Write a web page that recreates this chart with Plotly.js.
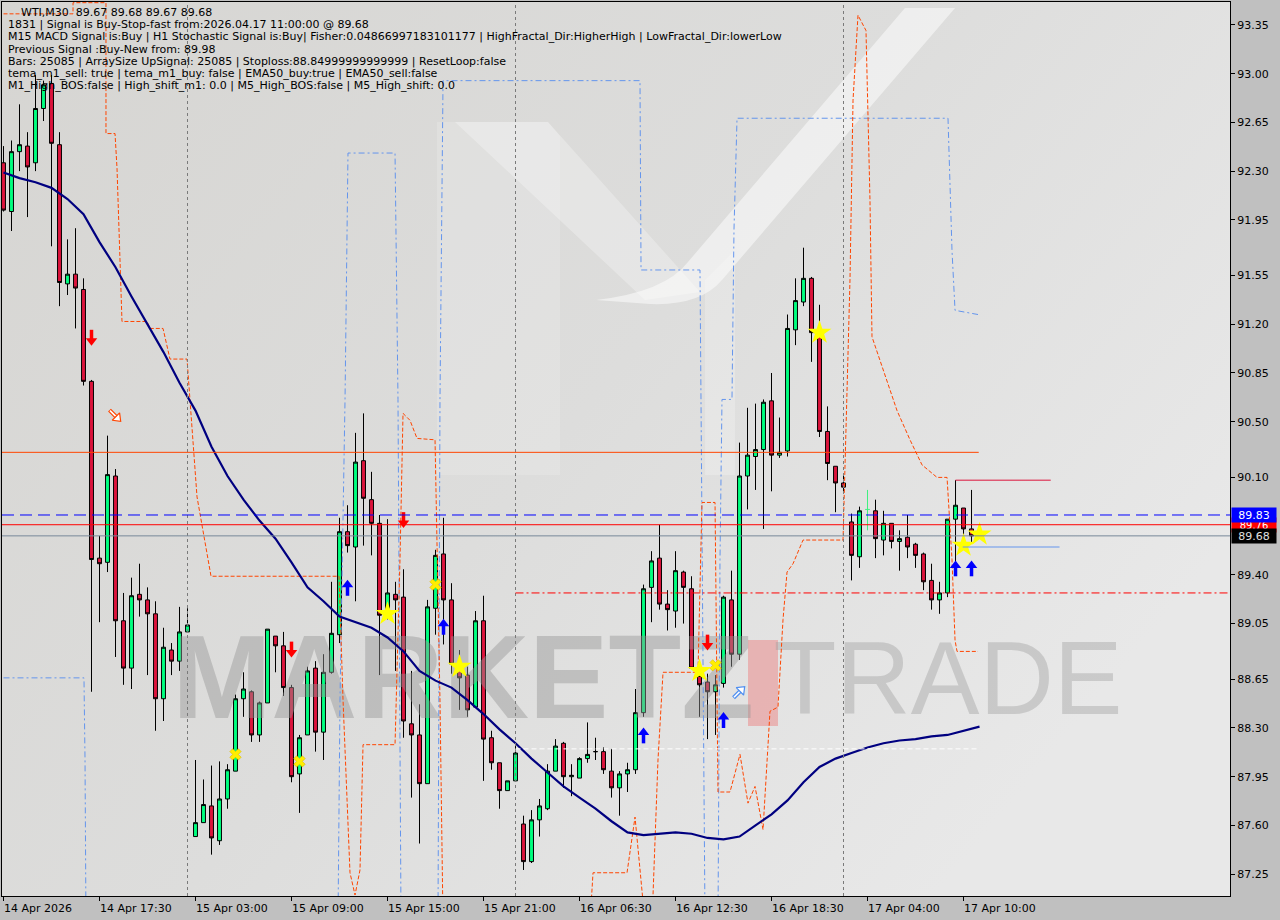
<!DOCTYPE html>
<html><head><meta charset="utf-8">
<script src="https://cdn.plot.ly/plotly-3.0.1.min.js"></script>
<style>html,body{margin:0;padding:0;background:#c0c0c0;}#chart{width:1280px;height:920px;}</style>
</head><body><div id="chart"></div>
<script>
// ---------- DATA ----------
const openV  = [92.36,92.01,92.44,92.48,92.36,92.75,92.93,92.49,91.49,91.56,91.45,90.79,89.52,89.49,90.11,89.07,88.73,89.26,89.22,89.12,88.51,88.86,88.78,88.99,87.52,87.62,87.74,87.49,87.79,87.99,88.51,88.56,88.25,88.48,88.96,88.89,88.59,87.97,88.25,88.73,88.27,88.70,88.97,89.71,89.60,90.22,89.94,89.77,89.11,89.26,89.24,88.33,88.25,87.90,89.16,89.55,89.22,88.76,88.68,88.45,89.07,88.23,88.05,87.85,87.92,87.61,87.34,87.64,87.72,87.99,88.19,87.95,87.94,88.08,88.13,88.13,87.99,87.87,87.97,88.00,88.41,89.31,89.52,89.19,89.14,89.42,89.30,88.67,88.63,88.56,88.62,89.22,88.83,90.11,90.25,90.30,90.65,90.26,90.29,91.16,91.36,91.53,91.14,90.43,90.18,90.06,89.78,89.53,null,89.86,89.65,89.77,89.64,89.67,89.62,89.55,89.36,89.22,89.27,89.80,89.88,89.73,89.67];
const highV  = [92.48,92.52,92.78,92.58,92.99,92.95,92.99,92.58,91.81,91.89,91.53,90.80,89.68,90.40,90.16,89.27,89.38,89.48,89.31,89.21,89.02,88.91,89.17,89.16,88.07,87.93,88.03,88.06,88.04,88.54,88.70,88.57,88.49,89.01,88.96,88.99,88.61,88.25,88.74,88.78,88.83,89.35,89.81,89.90,90.42,90.56,90.14,89.83,89.80,89.35,89.44,88.71,88.47,89.22,89.58,89.81,89.34,88.86,88.74,89.14,89.25,88.28,88.05,87.92,88.17,87.67,87.71,87.79,88.04,88.22,88.20,88.04,88.09,88.34,88.23,88.16,88.15,87.99,88.05,88.58,89.33,89.57,89.76,89.29,89.57,89.43,89.39,88.72,88.69,88.68,89.25,89.43,90.35,90.60,90.63,90.66,90.85,90.53,91.27,91.53,91.75,91.54,91.34,90.61,90.18,90.11,89.84,89.89,null,89.94,89.86,89.77,89.72,89.83,89.63,89.56,89.48,89.35,89.80,90.08,89.88,90.01,89.68];
const lowV   = [92.01,91.87,92.30,91.97,92.30,92.66,91.76,91.33,91.41,91.17,90.76,88.56,89.06,89.42,88.81,88.61,88.58,89.10,88.68,88.28,88.35,88.68,88.71,88.99,87.52,87.62,87.39,87.46,87.72,87.99,88.38,88.20,88.20,88.48,88.70,88.53,87.91,87.69,88.25,88.13,88.07,88.69,88.91,89.56,89.21,89.61,89.54,88.68,89.08,88.71,88.23,87.80,87.47,87.90,88.97,88.90,88.69,88.43,88.38,88.45,87.92,88.00,87.72,87.85,87.92,87.28,87.33,87.52,87.71,87.99,87.87,87.81,87.94,88.05,88.07,87.97,87.80,87.67,87.84,87.97,88.38,89.06,89.15,89.00,89.02,89.05,88.73,88.38,88.22,88.25,88.59,88.74,88.79,89.87,90.01,89.73,90.00,90.24,90.25,91.05,91.33,90.93,90.39,90.08,89.85,89.99,89.36,89.45,null,89.52,89.54,89.59,89.43,89.52,89.45,89.29,89.15,89.12,89.24,89.46,89.62,89.63,89.67];
const closeV = [92.02,92.44,92.49,92.33,92.75,92.92,92.50,91.50,91.56,91.46,90.79,89.51,89.48,90.12,89.07,88.73,89.25,89.22,89.12,88.51,88.88,88.78,88.99,89.04,87.62,87.75,87.51,87.79,88.00,88.51,88.58,88.25,88.48,89.01,88.89,88.59,87.95,88.23,88.71,88.27,88.70,88.98,89.71,89.61,90.21,89.95,89.77,89.11,89.27,89.22,88.35,88.25,87.90,89.17,89.54,89.22,88.76,88.66,88.43,89.07,88.22,88.05,87.85,87.92,88.12,87.34,87.64,87.74,87.99,88.17,87.95,87.96,88.08,88.11,88.13,88.00,87.87,87.97,88.00,88.41,89.30,89.50,89.19,89.15,89.43,89.31,88.73,88.61,88.56,88.61,89.24,88.83,90.11,90.26,90.30,90.64,90.26,90.28,91.17,91.37,91.53,91.14,90.43,90.20,90.06,90.03,89.54,89.86,null,89.66,89.77,89.64,89.66,89.60,89.54,89.35,89.22,89.27,89.80,89.90,89.73,89.68,89.68];

// odd tick bar (light green cross)
const crossBarIdx = [108];
const crossBarO = [89.87], crossBarH = [90.01], crossBarL = [89.72], crossBarC = [89.87];

// EMA (navy)
const emaIdx = [0,2,4,6,8,10,12,14,16,18,20,22,24,26,28,30,32,34,36,38,40,42,44,46,48,50,52,54,56,58,60,62,64,66,68,70,72,74,76,78,80,82,84,86,88,90,92,94,96,98,100,102,104,106,108,110,112,114,116,118,120,122];
const emaVal = [92.29,92.25,92.22,92.18,92.10,91.99,91.79,91.61,91.40,91.20,91.00,90.78,90.58,90.32,90.11,89.94,89.79,89.66,89.49,89.31,89.21,89.10,89.06,89.02,88.95,88.85,88.71,88.64,88.59,88.50,88.40,88.29,88.19,88.08,87.98,87.88,87.80,87.72,87.63,87.55,87.53,87.54,87.55,87.54,87.51,87.50,87.52,87.60,87.68,87.78,87.91,88.02,88.08,88.12,88.16,88.19,88.21,88.22,88.24,88.25,88.28,88.31];

// orange step indicator
const orIdx = [0,8.69,8.69,12.81,12.81,13.94,14.19,14.81,17.94,18.31,19.94,20.81,22.94,23.31,24.19,25.94,41.94,42.44,43.31,43.94,44.56,44.94,48.94,49.56,49.94,50.81,51.69,53.94,54.56,54.94,73.31,73.69,77.94,78.94,79.56,80.19,81.06,81.81,82.44,86.81,87.31,88.94,89.31,90.81,92.06,93.06,93.94,94.94,95.81,96.81,97.44,97.94,98.69,99.94,104.94,105.44,105.81,106.19,106.81,107.81,108.31,108.56,110.19,111.69,113.31,114.81,116.69,117.94,118.56,118.94,119.19,121.81];
const orVal = [93.43,93.43,93.51,93.51,92.57,92.57,92.32,91.22,91.22,91.17,91.17,90.95,90.95,90.66,89.96,89.39,89.39,88.50,87.26,87.10,87.28,88.18,88.18,89.51,90.56,90.51,90.38,90.37,88.50,86.90,86.90,87.26,87.26,87.66,87.28,86.90,86.90,88.07,88.70,88.70,89.92,89.92,87.84,87.84,88.11,87.76,87.88,87.57,88.42,88.45,89.08,89.42,89.48,89.65,89.65,90.66,91.52,92.81,93.42,93.31,92.09,91.11,90.84,90.58,90.37,90.19,90.10,90.10,89.51,88.93,88.85,88.85];

// blue step indicator
const blIdx = [0,10.06,10.19,10.31,41.81,42.06,42.69,43.06,48.94,49.31,49.69,54.31,54.56,54.94,79.56,79.69,87.06,87.31,87.69,89.31,89.56,89.81,91.06,91.31,91.69,118.06,118.56,118.94,121.81];
const blVal = [88.66,88.66,88.07,86.90,86.90,88.50,90.66,92.43,92.43,90.66,86.90,86.90,90.66,92.95,92.95,91.59,91.59,89.94,86.90,86.90,89.51,90.66,90.66,91.88,92.68,92.68,91.73,91.30,91.27];

// signal markers
const sellArrowIdx = [11,36,50,88],        sellArrowVal = [91.10,88.86,89.79,88.91];
const buyArrowIdx  = [43,55,80,90,119,121], buyArrowVal  = [89.31,89.03,88.25,88.36,89.45,89.45];
const starIdx = [48,57,87,102,120,122],     starVal = [89.12,88.74,88.71,91.14,89.61,89.69];
const xIdx = [29,37,54,89],                 xVal = [88.11,88.06,89.33,88.75];
const hollowSellIdx = [14], hollowSellVal = [90.54];
const hollowBuyIdx = [92],  hollowBuyVal = [88.56];

// levels
const levelAsk = 89.83, levelMid = 89.76, levelBid = 89.68;
const levelHigh = 90.28, levelStop = 89.27, levelWhite = 88.15, levelCrimson = 90.08, levelLightBlue = 89.60;
const separatorIdx = [23,64,105];

// axis ticks
const yTickVals = [93.35,93.00,92.65,92.30,91.95,91.55,91.20,90.85,90.50,90.10,89.40,89.05,88.65,88.30,87.95,87.60,87.25];
const xTickIdx = [0,12,24,36,48,60,72,84,96,108,120];
const xTickText = ['14 Apr 2026','14 Apr 17:30','15 Apr 03:00','15 Apr 09:00','15 Apr 15:00','15 Apr 21:00','16 Apr 06:30','16 Apr 12:30','16 Apr 18:30','17 Apr 04:00','17 Apr 10:00'];

const infoLines = [
  'WTI,M30  89.67 89.68 89.67 89.68',
  '1831 | Signal is Buy-Stop-fast from:2026.04.17 11:00:00 @ 89.68',
  'M15 MACD Signal is:Buy | H1 Stochastic Signal is:Buy| Fisher:0.04866997183101177 | HighFractal_Dir:HigherHigh | LowFractal_Dir:lowerLow',
  'Previous Signal :Buy-New from: 89.98',
  'Bars: 25085 | ArraySize UpSignal: 25085 | Stoploss:88.84999999999999 | ResetLoop:false',
  'tema_m1_sell: true | tema_m1_buy: false | EMA50_buy:true | EMA50_sell:false',
  'M1_High_BOS:false | High_shift_m1: 0.0 | M5_High_BOS:false | M5_High_shift: 0.0'
];

// ---------- GEOMETRY (layout only) ----------
const W = 1280, H = 920, ML = 2, MR = 50, MT = 2, MB = 24;
const PW = W - ML - MR, PH = H - MT - MB;
const XR = [-0.1875, 153.31], YR = [87.093, 93.515];
const PPP = (YR[1] - YR[0]) / PH;      // price per pixel
const XPP = (XR[1] - XR[0]) / PW;      // bar index per pixel
const px2paperX = px => (px - ML) / PW;
const py2paperY = py => (H - MB - py) / PH;
const px2x = px => XR[0] + (px - ML) / PW * (XR[1] - XR[0]);
const py2y = py => YR[1] - (py - MT) / PH * (YR[1] - YR[0]);
// decorative path from pixel commands -> paper coords
const decoPath = cmds => cmds.map(c => c[0] + ' ' + c.slice(1).reduce((a, v, i) => {
  if (i % 2 === 0) a.push(px2paperX(v).toFixed(4)); else a[a.length-1] += ',' + py2paperY(v).toFixed(4); return a; }, []).join(' ')).join(' ') + ' Z';

const idx = openV.map((_, i) => i);
const FONT = 'DejaVu Sans, Tahoma, sans-serif';

const bgSvg = "<svg xmlns='http://www.w3.org/2000/svg' width='1228' height='894'><defs><linearGradient id='g' x1='0' y1='0' x2='1' y2='0.6'><stop offset='0' stop-color='#d6d5d2'/><stop offset='0.55' stop-color='#dddddc'/><stop offset='1' stop-color='#e8e8e8'/></linearGradient></defs><rect width='1228' height='894' fill='url(#g)'/></svg>";
const bgUri = 'data:image/svg+xml;charset=utf-8,' + encodeURIComponent(bgSvg);

const arrowTraces = (ix, iv, color, down) => [
  {type:'scatter', mode:'markers', x:ix, y:iv.map(v => v + (down ? 3.5 : -3.5) * PPP),
   marker:{symbol:'line-ns', size:7, line:{width:3.5, color}}, hoverinfo:'skip'},
  {type:'scatter', mode:'markers', x:ix, y:iv.map(v => v + (down ? -2.5 : 2.5) * PPP),
   marker:{symbol: down ? 'triangle-down' : 'triangle-up', size:10, color, line:{width:0}}, hoverinfo:'skip'}
];
// hollow diagonal arrow: dx,dy = direction (+1 right / +1 up)
const hollowArrow = (ix, iv, color, dx, dy) => {
  const shaftSym = dx * dy > 0 ? 'line-ne' : 'line-nw';
  const ang = dy > 0 ? 45 : 135;
  const sx = ix.map(v => v - dx * 2.5 * XPP), sy = iv.map(v => v - dy * 2.5 * PPP);
  return [
    {type:'scatter', mode:'markers', x:sx, y:sy, marker:{symbol:shaftSym, size:7, line:{width:4, color}}, hoverinfo:'skip'},
    {type:'scatter', mode:'markers', x:sx, y:sy, marker:{symbol:shaftSym, size:6, line:{width:1.6, color:'#ffffff'}}, hoverinfo:'skip'},
    {type:'scatter', mode:'markers', x:ix.map(v => v + dx * 2 * XPP), y:iv.map(v => v + dy * 2 * PPP),
     marker:{symbol:'triangle-up', angle:ang, size:9, color:'#ffffff', line:{width:1.2, color}}, hoverinfo:'skip'}
  ];
};

const traces = [
  // watermark text (below candles)
  {type:'scatter', mode:'text', x:[px2x(463)], y:[py2y(688)], text:['MARKETZ'],
   textfont:{family:'Liberation Sans, Arial, sans-serif', size:119, color:'rgba(150,150,150,0.45)', weight:'bold'},
   textposition:'middle center', hoverinfo:'skip', cliponaxis:false},
  {type:'scatter', mode:'text', x:[px2x(948)], y:[py2y(688)], text:['TRADE'],
   textfont:{family:'Liberation Sans Narrow, Liberation Sans, sans-serif', size:103, color:'rgba(160,160,160,0.42)'},
   textposition:'middle center', hoverinfo:'skip', cliponaxis:false},
  // indicator step lines
  {type:'scatter', mode:'lines', x:blIdx, y:blVal, line:{color:'#6495ed', width:1, dash:'6px,3px,2px,3px'}, hoverinfo:'skip'},
  {type:'scatter', mode:'lines', x:orIdx, y:orVal, line:{color:'#ff4500', width:1, dash:'4px,2px'}, hoverinfo:'skip'},
  // EMA
  {type:'scatter', mode:'lines', x:emaIdx, y:emaVal, line:{color:'#000080', width:2.2}, hoverinfo:'skip'},
  // candles
  {type:'candlestick', x:idx, open:openV, high:highV, low:lowV, close:closeV,
   increasing:{line:{color:'#000000', width:1}, fillcolor:'#00ff7f'},
   decreasing:{line:{color:'#000000', width:1}, fillcolor:'#dc143c'},
   whiskerwidth:0, hoverinfo:'skip'},
  {type:'ohlc', x:crossBarIdx, open:crossBarO, high:crossBarH, low:crossBarL, close:crossBarC,
   increasing:{line:{color:'#40f080', width:1}}, decreasing:{line:{color:'#40f080', width:1}}, tickwidth:0.3, hoverinfo:'skip'},
  // markers
  {type:'scatter', mode:'markers', x:xIdx, y:xVal, marker:{symbol:'x', size:10, color:'#ffee00', line:{width:0.6, color:'#d8b800'}}, hoverinfo:'skip'},
  {type:'scatter', mode:'markers', x:starIdx, y:starVal, marker:{symbol:'star', size:18, color:'#ffff00', line:{width:0}}, hoverinfo:'skip'},
  ...arrowTraces(sellArrowIdx, sellArrowVal, '#ff0000', true),
  ...arrowTraces(buyArrowIdx, buyArrowVal, '#0000ff', false),
  ...hollowArrow(hollowSellIdx, hollowSellVal, '#ff4500', 1, -1),
  ...hollowArrow(hollowBuyIdx, hollowBuyVal, '#4f8ff0', 1, 1)
];

const shapes = [];
// watermark logo (soft white strokes) and block
const deco = (cmds, fill) => shapes.push({type:'path', layer:'below', xref:'paper', yref:'paper', path:decoPath(cmds), fillcolor:fill, line:{width:0}});
deco([['M',437,122],['L',548,122],['L',560,136],['L',560,475],['L',437,475]], 'rgba(255,255,255,0.16)');
deco([['M',455,122],['L',548,122],['L',700,292],['L',645,300]], 'rgba(255,255,255,0.28)');
deco([['M',905,8],['L',955,8],['L',722,280],['Q',700,306,650,304],['L',596,300],['Q',665,292,688,262]], 'rgba(255,255,255,0.5)');
deco([['M',705,280],['L',735,250],['L',735,475],['L',705,475]], 'rgba(255,255,255,0.22)');
shapes.push({type:'rect', layer:'below', xref:'paper', yref:'paper', x0:px2paperX(748), x1:px2paperX(778), y0:py2paperY(726), y1:py2paperY(640), fillcolor:'rgba(235,140,140,0.55)', line:{width:0}});
separatorIdx.forEach(s => shapes.push({type:'line', xref:'x', yref:'paper', x0:s, x1:s, y0:0, y1:1, line:{color:'#7a7a7a', width:1, dash:'3px,3px'}}));
const hline = (y, x0, x1, color, dash, xref) => shapes.push({type:'line', xref:xref||'x', yref:'y', x0, x1, y0:y, y1:y, line:{color, width:1, dash}});
hline(levelHigh, -1, 121.9, '#ff4500', 'solid');
hline(levelWhite, 64, 121.9, '#ffffff', '5px,3px');
hline(levelStop, 64, 154, '#ff0000', '8px,3px,2px,3px');
hline(levelCrimson, 119, 130.9, '#dc143c', 'solid');
hline(levelLightBlue, 119.9, 132, '#6495ed', 'solid');
hline(levelBid, 0, 1, '#778899', 'solid', 'paper');
hline(levelMid, 0, 1, '#ff0000', 'solid', 'paper');
hline(levelAsk, 0, 1, '#0000ff', '12px,6px', 'paper');

const annotations = [];
infoLines.forEach((t, k) => annotations.push({
  text: t, xref:'paper', yref:'paper', x: px2paperX(k === 0 ? 19 : 6), y: py2paperY(12.5 + k*12.2),
  xanchor:'left', yanchor:'middle', showarrow:false, font:{family:FONT, size:11, color:'#000'}
}));
xTickIdx.forEach((v, k) => annotations.push({
  text: xTickText[k], xref:'x', yref:'paper', x: v, y: py2paperY(908), xanchor:'left', yanchor:'middle',
  showarrow:false, font:{family:FONT, size:11, color:'#000'}, xshift:-2
}));
const priceBox = (v, bg, fg, fs) => annotations.push({
  text: v.toFixed(2), xref:'paper', yref:'y', x:1, y:v, xanchor:'left', yanchor:'middle', xshift:1,
  showarrow:false, bgcolor:bg, borderpad:0, width:44, height:14, align:'center', font:{family:FONT, size:fs, color:fg}
});
priceBox(levelMid, '#ff0000', '#ffffff', 10);
priceBox(levelAsk, '#0000ff', '#ffffff', 11);
priceBox(levelBid, '#000000', '#e0e0e0', 11);

const layout = {
  width:W, height:H, margin:{l:ML, r:MR, t:MT, b:MB, pad:0},
  paper_bgcolor:'#c0c0c0', plot_bgcolor:'#dbdbd9', showlegend:false,
  boxgap:0.3,
  images:[{source:bgUri, xref:'paper', yref:'paper', x:0, y:1, sizex:1, sizey:1, sizing:'stretch', xanchor:'left', yanchor:'top', layer:'below'}],
  xaxis:{range:XR, showgrid:false, zeroline:false, showline:true, mirror:true, linecolor:'#000', linewidth:1,
    ticks:'outside', ticklen:4, tickcolor:'#000', tickvals:xTickIdx, showticklabels:false,
    rangeslider:{visible:false}, fixedrange:true},
  yaxis:{range:YR, side:'right', showgrid:false, zeroline:false, showline:true, mirror:true, linecolor:'#000', linewidth:1,
    ticks:'outside', ticklen:4, tickcolor:'#000', tickvals:yTickVals, ticktext:yTickVals.map(v=>v.toFixed(2)),
    tickfont:{family:FONT, size:11, color:'#000'}, fixedrange:true},
  shapes, annotations
};
Plotly.newPlot('chart', traces, layout, {staticPlot:true, displayModeBar:false});
</script></body></html>
